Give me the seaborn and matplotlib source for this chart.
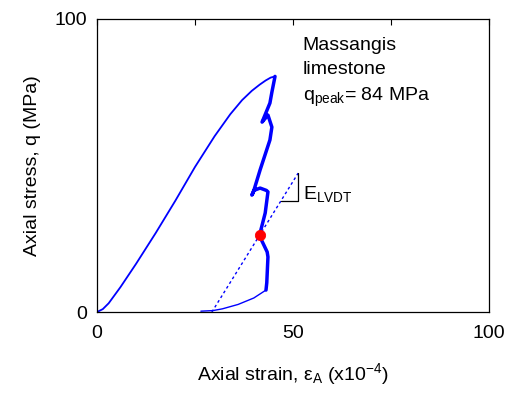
import numpy as np
import pandas as pd
import matplotlib
matplotlib.use('Agg')
import matplotlib.pyplot as plt
import seaborn as sns

# pre-peak loading branch (strain x1e-4, stress MPa)
pre_strain = [0, 1.5, 3, 6, 10, 15, 20, 25, 30, 34, 37, 39.5, 41.5, 43, 44.3, 45.4]
pre_stress = [0, 1.0, 3.0, 8.5, 16.5, 27, 38, 49.5, 60, 67.5, 72.3, 75.5, 77.6, 79.0, 80.0, 80.4]

# post-peak branch
post_strain = [45.4, 44.6, 44.1, 42.1, 43.6, 44.6, 44.1, 41.6, 39.8, 39.5, 40.0, 41.6,
               43.2, 43.6, 42.9, 41.6, 41.8, 43.4, 43.6, 43.3, 43.1]
post_stress = [80.4, 75, 71.3, 64.8, 67.2, 63.1, 58.7, 48.5, 40.6, 39.9, 41.5, 42.3,
               41.5, 41.0, 33.8, 27.0, 25.0, 20.5, 18.8, 10.0, 7.5]

# unloading branch
unl_strain = [43.1, 40, 36, 32, 29.6, 26.5]
unl_stress = [7.5, 4.8, 2.6, 1.1, 0.5, 0.3]

# LVDT modulus line and marked point
lvdt_strain = [29.3, 51.3]
lvdt_stress = [0, 47.4]
pt_strain = [41.6]
pt_stress = [26.3]

tri_x = [46.9, 51.3, 51.3]
tri_y = [37.9, 37.9, 47.4]

sns.set_style("white")
plt.rcParams['font.family'] = ['Liberation Sans', 'DejaVu Sans']
plt.rcParams['mathtext.fontset'] = 'custom'
plt.rcParams['mathtext.rm'] = 'Liberation Sans'
plt.rcParams['mathtext.it'] = 'Liberation Sans'
plt.rcParams['xtick.direction'] = 'in'
plt.rcParams['ytick.direction'] = 'in'
plt.rcParams['text.color'] = 'black'
plt.rcParams['axes.labelcolor'] = 'black'
plt.rcParams['xtick.color'] = 'black'
plt.rcParams['ytick.color'] = 'black'

fig = plt.figure(figsize=(5.21, 3.95), dpi=100)
ax = fig.add_axes([0.186, 0.21, 0.753, 0.742])

blue = '#0000ff'
sns.lineplot(x=pre_strain, y=pre_stress, sort=False, estimator=None, color=blue, linewidth=1.3, ax=ax)
sns.lineplot(x=post_strain, y=post_stress, sort=False, estimator=None, color=blue, linewidth=2.5, ax=ax)
sns.lineplot(x=unl_strain, y=unl_stress, sort=False, estimator=None, color=blue, linewidth=1.0, ax=ax)
ax.plot(lvdt_strain, lvdt_stress, color=blue, linewidth=1.0, linestyle=(0, (2, 2)))
ax.plot(tri_x, tri_y, color='black', linewidth=0.9)
sns.scatterplot(x=pt_strain, y=pt_stress, color='red', s=55, edgecolor='red', zorder=5, ax=ax)

ax.set_xlim(0, 100)
ax.set_ylim(0, 100)
ax.set_xticks([0, 25, 50, 75, 100])
ax.set_xticklabels(['0', '', '50', '', '100'])
ax.set_yticks([0, 50, 100])
ax.set_yticklabels(['0', '', '100'])
ax.tick_params(labelsize=14, length=4, width=0.8, top=True, right=False)
ax.tick_params(axis='x', pad=9)
ax.tick_params(axis='y', pad=7)

for s in ax.spines.values():
    s.set_color('black')
    s.set_linewidth(0.9)

ax.set_xlabel(r'Axial strain, ε$_\mathregular{A}$ (x10$^\mathregular{-4}$)', fontsize=14, labelpad=14)
ax.set_ylabel('Axial stress, q (MPa)', fontsize=14, labelpad=10)

ax.text(52.5, 94, 'Massangis\nlimestone\nq$_\\mathregular{peak}$= 84 MPa', fontsize=14,
        va='top', ha='left', linespacing=1.55)
ax.text(52.5, 37, 'E$_\\mathregular{LVDT}$', fontsize=14, va='bottom', ha='left')

fig.savefig('out.png', dpi=100)
